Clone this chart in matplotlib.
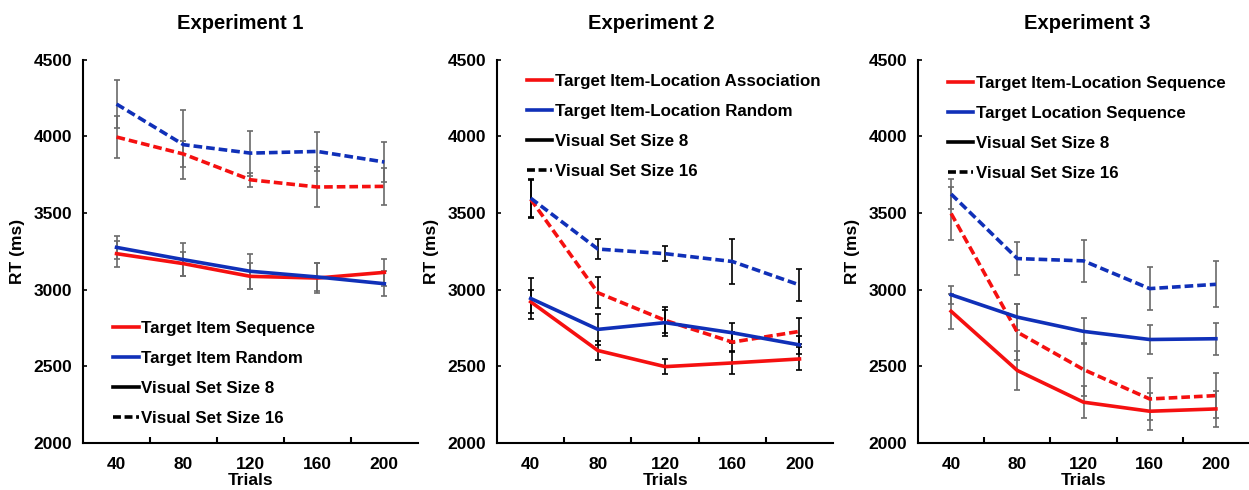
import matplotlib
matplotlib.use('Agg')
import matplotlib.pyplot as plt
from matplotlib.lines import Line2D

plt.rcParams['font.family'] = ['Liberation Sans', 'DejaVu Sans']
plt.rcParams['font.weight'] = 'bold'

trials = ['40', '80', '120', '160', '200']

# Experiment 1
e1_seq8 = [3235, 3170, 3087, 3076, 3113]
e1_seq8_err = [85, 78, 85, 95, 87]
e1_rand8 = [3276, 3196, 3120, 3083, 3039]
e1_rand8_err = [75, 108, 115, 90, 80]
e1_seq16 = [3996, 3885, 3717, 3670, 3674]
e1_seq16_err = [135, 85, 45, 130, 122]
e1_rand16 = [4211, 3946, 3891, 3902, 3833]
e1_rand16_err = [155, 225, 146, 130, 128]

# Experiment 2
e2_assoc8 = [2921, 2603, 2498, 2522, 2548]
e2_assoc8_err = [75, 60, 50, 75, 75]
e2_rand8 = [2943, 2741, 2785, 2719, 2640]
e2_rand8_err = [135, 100, 85, 65, 60]
e2_assoc16 = [3590, 2980, 2800, 2658, 2728]
e2_assoc16_err = [125, 100, 85, 65, 85]
e2_rand16 = [3597, 3265, 3235, 3184, 3031]
e2_rand16_err = [125, 65, 50, 145, 105]

# Experiment 3
e3_ils8 = [2859, 2473, 2266, 2207, 2222]
e3_ils8_err = [115, 130, 105, 120, 115]
e3_ls8 = [2967, 2821, 2728, 2675, 2680]
e3_ls8_err = [60, 85, 85, 95, 105]
e3_ils16 = [3497, 2723, 2479, 2287, 2309]
e3_ils16_err = [170, 185, 170, 135, 145]
e3_ls16 = [3624, 3203, 3188, 3007, 3035]
e3_ls16_err = [95, 105, 135, 140, 150]

RED = '#f51010'
BLUE = '#1030b8'
DASH = (0, (2.4, 1.1))

panels = [
    dict(title='Experiment 1', rect=[0.0665, 0.096, 0.268, 0.782], tx=0.47,
         names=['Target Item Sequence', 'Target Item Random'],
         s8=(e1_seq8, e1_seq8_err), r8=(e1_rand8, e1_rand8_err),
         s16=(e1_seq16, e1_seq16_err), r16=(e1_rand16, e1_rand16_err),
         ecol='#6a6a6a', leg=(0.09, 0.318)),
    dict(title='Experiment 2', rect=[0.398, 0.096, 0.269, 0.782], tx=0.46,
         names=['Target Item-Location Association', 'Target Item-Location Random'],
         s8=(e2_assoc8, e2_assoc8_err), r8=(e2_rand8, e2_rand8_err),
         s16=(e2_assoc16, e2_assoc16_err), r16=(e2_rand16, e2_rand16_err),
         ecol='black', leg=(0.089, 0.962)),
    dict(title='Experiment 3', rect=[0.735, 0.096, 0.265, 0.782], tx=0.51,
         names=['Target Item-Location Sequence', 'Target Location Sequence'],
         s8=(e3_ils8, e3_ils8_err), r8=(e3_ls8, e3_ls8_err),
         s16=(e3_ils16, e3_ils16_err), r16=(e3_ls16, e3_ls16_err),
         ecol='#6a6a6a', leg=(0.09, 0.957)),
]

fig = plt.figure(figsize=(12.49, 4.90), dpi=100)
x = list(range(len(trials)))

for p in panels:
    ax = fig.add_axes(p['rect'])
    for key, col, ls in [('s16', RED, DASH), ('r16', BLUE, DASH),
                         ('s8', RED, '-'), ('r8', BLUE, '-')]:
        vals, err = p[key]
        ax.errorbar(x, vals, yerr=err, fmt='none', ecolor=p['ecol'],
                    elinewidth=1.2, capsize=2.2, capthick=1.2, zorder=2)
        ax.plot(x, vals, color=col, linestyle=ls, linewidth=2.6, zorder=3)

    ax.set_xlim(-0.5, 4.5)
    ax.set_ylim(2000, 4500)
    ax.set_yticks([2000, 2500, 3000, 3500, 4000, 4500])
    ax.set_xticks(x)
    ax.set_xticklabels(trials)
    ax.set_xticks([0.5, 1.5, 2.5, 3.5], minor=True)
    ax.tick_params(axis='x', which='major', length=0, labelsize=12.5, pad=10)
    ax.tick_params(axis='x', which='minor', direction='in', length=4, width=1.5)
    ax.tick_params(axis='y', direction='in', length=3, width=1.2, labelsize=12.5, pad=8)
    for lab in ax.get_xticklabels() + ax.get_yticklabels():
        lab.set_fontweight('bold')
    for s in ['top', 'right']:
        ax.spines[s].set_visible(False)
    for s in ['left', 'bottom']:
        ax.spines[s].set_linewidth(1.5)

    ax.set_ylabel('RT (ms)', fontsize=12.5, fontweight='bold', labelpad=6)
    ax.set_xlabel('Trials', fontsize=12.5, fontweight='bold', labelpad=1)
    ax.set_title(p['title'], fontsize=14.5, fontweight='bold', x=p['tx'], pad=22)

    handles = [Line2D([], [], color=RED, linewidth=2.6),
               Line2D([], [], color=BLUE, linewidth=2.6),
               Line2D([], [], color='black', linewidth=2.6),
               Line2D([], [], color='black', linewidth=2.6, linestyle=(0, (2.2, 1.0)))]
    labels = p['names'] + ['Visual Set Size 8', 'Visual Set Size 16']
    ax.legend(handles, labels, loc='upper left', bbox_to_anchor=p['leg'],
              frameon=False, borderpad=0, borderaxespad=0, handlelength=1.5,
              handletextpad=0.15, labelspacing=0.88,
              prop={'size': 12.2, 'weight': 'bold'})

fig.savefig('out.png', dpi=100)
